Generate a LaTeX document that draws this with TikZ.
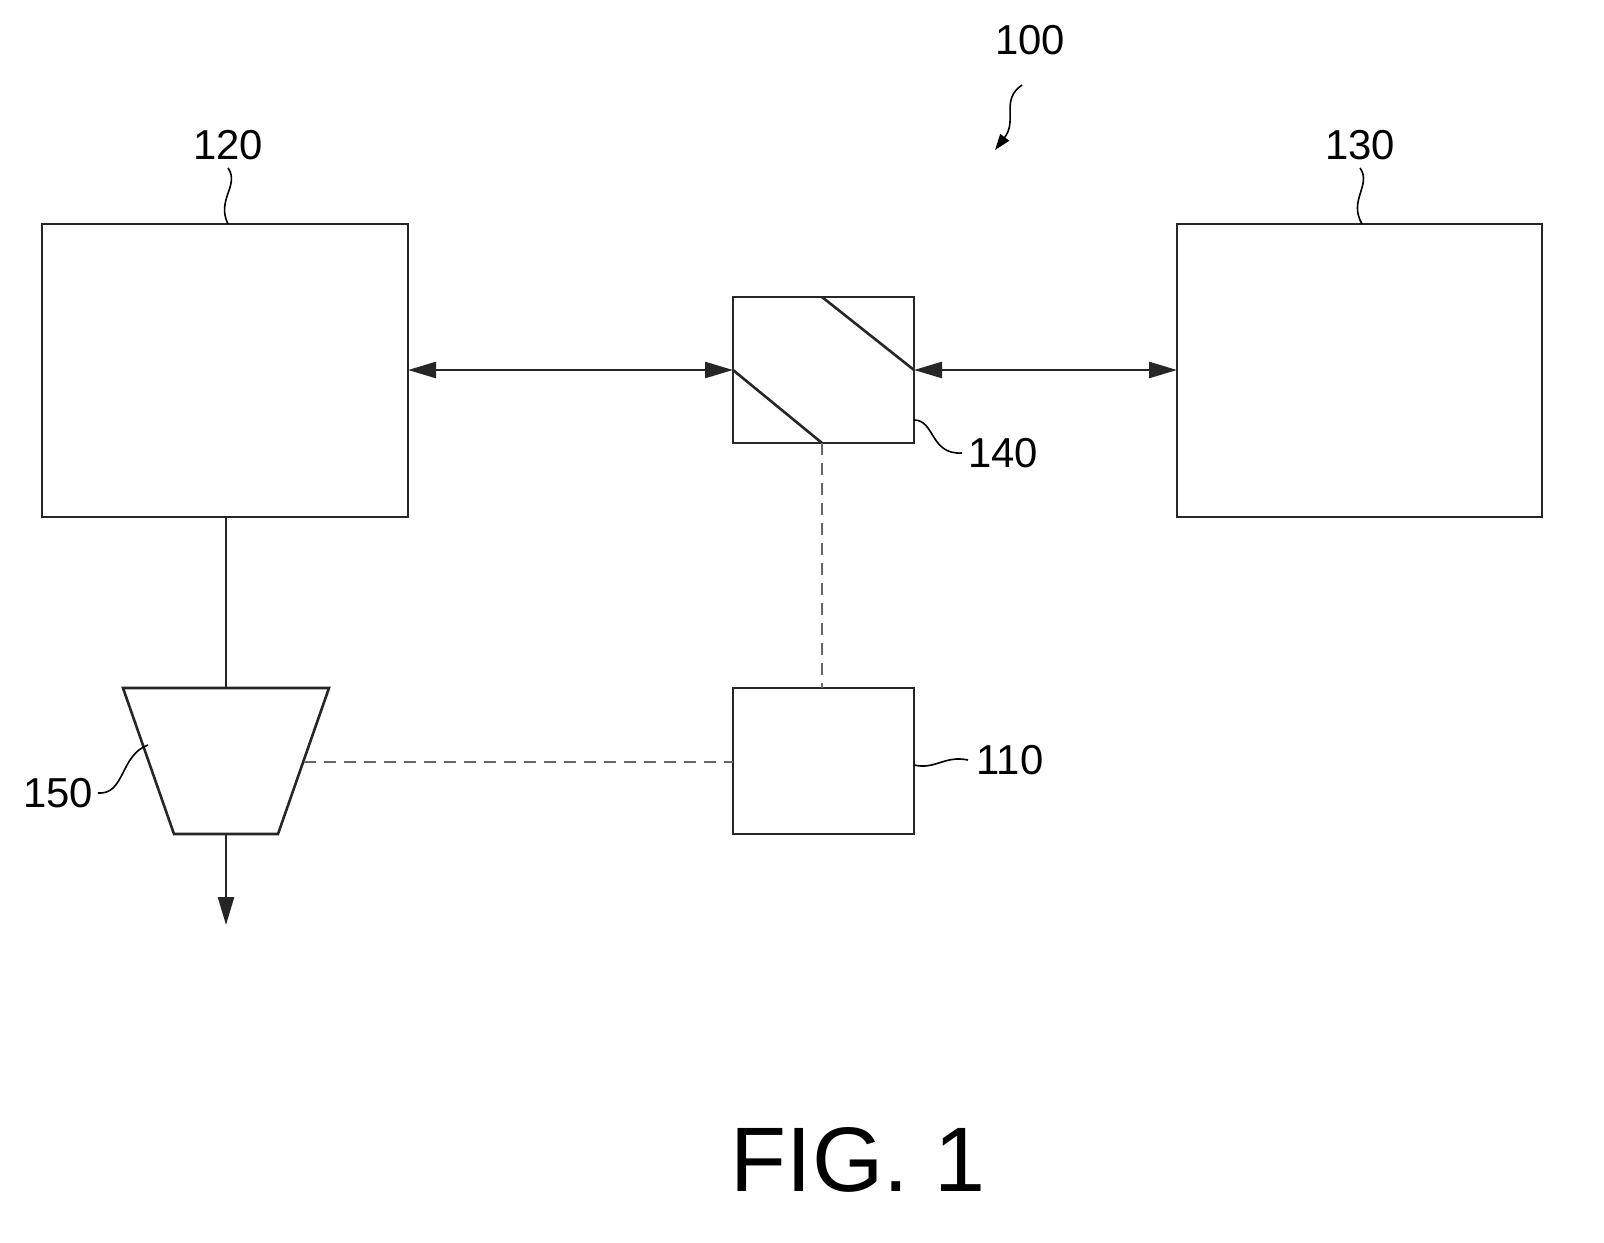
\documentclass[tikz,border=0pt]{standalone}
\usepackage{fontspec}
\setmainfont{Liberation Sans}
\usetikzlibrary{arrows.meta}
\begin{document}
\begin{tikzpicture}[x=1bp,y=-1bp,
  ln/.style={line width=2.6bp,draw=black!85},
  box/.style={ln},
  dsh/.style={line width=2.2bp,draw=black!60,dash pattern=on 12bp off 8bp},
  lbl/.style={font=\fontsize{42}{42}\selectfont,inner sep=0pt},
  tip/.style={-{Triangle[length=28bp,width=16bp]}},
  lead/.style={line width=1.6bp}]
\useasboundingbox (0,0) rectangle (1604,1242);
\draw[box] (42,224) rectangle (408,517);
\draw[box] (1177,224) rectangle (1542,517);
\draw[box] (733,297) rectangle (914,443);
\draw[ln] (822,297) -- (914,370);
\draw[ln] (733,370) -- (822,443);
\draw[box] (733,688) rectangle (914,834);
\draw[box] (123,688) -- (329,688) -- (278,834) -- (174,834) -- cycle;
\coordinate (a1) at (408,370); \coordinate (a2) at (733,370);
\coordinate (b1) at (914,370); \coordinate (b2) at (1177,370);
\draw[ln,{Triangle[length=28bp,width=16bp]}-{Triangle[length=28bp,width=16bp]}] (a1) -- (a2);
\draw[ln,{Triangle[length=28bp,width=16bp]}-{Triangle[length=28bp,width=16bp]}] (b1) -- (b2);
\draw[ln] (226,517) -- (226,688);
\draw[ln,tip] (226,834) -- (226,925);
\draw[dsh] (822,443) -- (822,688);
\draw[dsh] (304,762) -- (733,762);
\node[lbl] (l120) at (228,145) {120};
\draw[lead] (228,168) .. controls (240,185) and (216,200) .. (228,224);
\node[lbl] (l130) at (1360,145) {130};
\draw[lead] (1360,168) .. controls (1372,185) and (1348,200) .. (1362,224);
\node[lbl] (l140) at (1003,453) {140};
\draw[lead] (914,420) .. controls (935,420) and (930,455) .. (962,453);
\node[lbl] (l110) at (1010,760) {110};
\draw[lead] (914,765) .. controls (935,770) and (945,755) .. (968,760);
\node[lbl] (l150) at (58,793) {150};
\draw[lead] (98,793) .. controls (125,795) and (120,755) .. (148,745);
\node[lbl] (l100) at (1030,40) {100};
\draw[lead,-{Triangle[length=16bp,width=11bp]}] (1022,85) .. controls (1000,100) and (1018,120) .. (995,150);
\node[inner sep=0pt,font=\fontsize{92}{92}\selectfont] (fig) at (858,1160) {FIG. 1};
\end{tikzpicture}
\end{document}
